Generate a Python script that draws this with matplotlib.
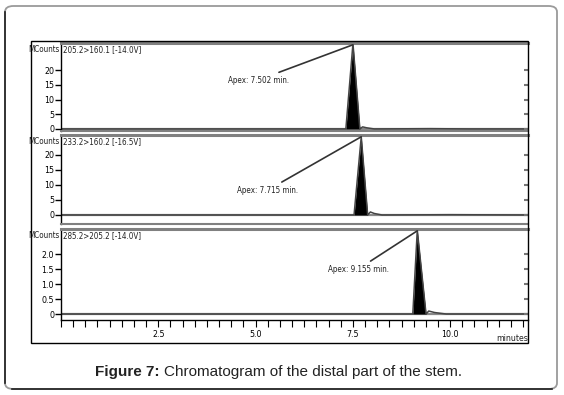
import matplotlib
matplotlib.use("Agg")
import matplotlib.pyplot as plt
from matplotlib.ticker import MultipleLocator, FixedLocator
from matplotlib.patches import FancyBboxPatch, Rectangle
from matplotlib.lines import Line2D

# chromatogram traces (time in minutes, intensity in MCounts)
t1 = [0.0, 7.32, 7.502, 7.68, 7.75, 7.85, 8.05, 9.5, 10.5, 12.0]
y1 = [0.0, 0.0, 29.0, 0.0, 0.7, 0.4, 0.0, 0.1, 0.0, 0.0]
t2 = [0.0, 7.53, 7.715, 7.88, 7.95, 8.05, 8.25, 10.0, 12.0]
y2 = [0.0, 0.0, 26.0, 0.0, 1.0, 0.5, 0.0, 0.1, 0.0]
t3 = [0.0, 9.04, 9.155, 9.38, 9.45, 9.6, 9.9, 12.0]
y3 = [0.0, 0.0, 2.8, 0.0, 0.1, 0.05, 0.0, 0.0]

headers = ["205.2>160.1 [-14.0V]", "233.2>160.2 [-16.5V]", "285.2>205.2 [-14.0V]"]
apex_labels = ["Apex: 7.502 min.", "Apex: 7.715 min.", "Apex: 9.155 min."]
apex_times = [7.502, 7.715, 9.155]
yticks_big = [0, 5, 10, 15, 20]
yticks_small = [0, 0.5, 1.0, 1.5, 2.0]
ytick_labels_small = ["0", "0.5", "1.0", "1.5", "2.0"]
xticks = [2.5, 5.0, 7.5, 10.0]
xtick_labels = ["2.5", "5.0", "7.5", "10.0"]

W, H = 564, 395
small = dict(family="DejaVu Sans", stretch="condensed")

fig = plt.figure(figsize=(W / 100, H / 100), dpi=100)

def fbox(l, t, r, b):
    return [l / W, 1 - b / H, (r - l) / W, (b - t) / H]

# outer rounded frame
outer = FancyBboxPatch((5 / W, 6 / H), 552 / W, 383 / H,
                       boxstyle="round,pad=0,rounding_size=0.015",
                       transform=fig.transFigure, fill=False,
                       edgecolor="#9a9a9a", lw=1.3)
fig.patches.append(outer)
fig.add_artist(Line2D([5 / W, 5 / W], [12 / H, 1 - 12 / H], transform=fig.transFigure, color="#222", lw=1.2))
fig.add_artist(Line2D([12 / W, 1 - 12 / W], [6 / H, 6 / H], transform=fig.transFigure, color="#222", lw=1.2))

# inner image frame
fig.add_artist(Rectangle((31 / W, 1 - 343 / H), 497 / W, 302 / H, transform=fig.transFigure,
                         fill=False, edgecolor="black", lw=1.0))

panels = [
    (fbox(61, 43, 528, 131), t1, y1, (-0.7, 29.2), (5.85, 16.6)),
    (fbox(61, 135, 528, 224), t2, y2, (-3.0, 26.6), (6.1, 8.3)),
    (fbox(61, 229, 528, 320), t3, y3, (-0.2, 2.84), (8.42, 1.5)),
]

for i, (pos, t, y, ylim, txt) in enumerate(panels):
    ax = fig.add_axes(pos)
    ax.plot(t, y, color="#444", lw=1.1)
    # black filled peak between its base points
    ax.fill_between(t[1:4], y[1:4], 0, color="black", lw=0)
    ax.axhline(0, color="#888", lw=1.6, zorder=0)
    ax.set_xlim(0, 12.0)
    ax.set_ylim(*ylim)
    ax.spines["top"].set_color("#808080")
    ax.spines["top"].set_linewidth(2.2)
    ax.spines["right"].set_visible(False)
    ax.spines["left"].set_linewidth(1.0)
    if i < 2:
        ax.spines["bottom"].set_color("#808080")
        ax.spines["bottom"].set_linewidth(1.5)
        ax.set_yticks(yticks_big)
        ax.set_xticks([])
    else:
        ax.spines["bottom"].set_linewidth(1.0)
        ax.set_yticks(yticks_small)
        ax.set_yticklabels(ytick_labels_small)
        ax.xaxis.set_major_locator(FixedLocator(xticks))
        ax.xaxis.set_minor_locator(MultipleLocator(2.5 / 8))
        ax.set_xticklabels(xtick_labels)
        ax.tick_params(axis="x", which="both", direction="out", length=5, width=0.8, pad=2)
        for lab in ax.get_xticklabels():
            lab.set_fontfamily("DejaVu Sans")
            lab.set_fontstretch("condensed")
            lab.set_fontsize(6.3)
        ax.text(1.0, -0.2, "minutes", transform=ax.transAxes, ha="right", va="center",
                fontsize=6.3, color="#222", **small)
    ax.tick_params(axis="y", direction="out", length=4, width=1.0, pad=1, labelsize=6.3)
    for lab in ax.get_yticklabels():
        lab.set_fontstretch("condensed")
    # inward gray ticks on the right edge
    ax2 = ax.twinx()
    ax2.set_ylim(ax.get_ylim())
    ax2.set_yticks(ax.get_yticks())
    ax2.set_yticklabels([])
    ax2.tick_params(axis="y", direction="in", length=3, width=1.5, color="#777")
    for s in ["top", "left", "bottom", "right"]:
        ax2.spines[s].set_visible(False)

    ax.text(-0.004, 0.93, "MCounts", transform=ax.transAxes, ha="right", va="center",
            fontsize=5.8, color="#222", **small)
    ax.text(0.005, 0.93, headers[i], transform=ax.transAxes, ha="left", va="center",
            fontsize=5.8, color="#222", **small)
    ax.annotate(apex_labels[i], xy=(apex_times[i], ylim[1] - 0.02 * (ylim[1] - ylim[0])),
                xytext=txt, ha="right", va="center", fontsize=5.8, color="#222",
                arrowprops=dict(arrowstyle="-", color="#333", lw=1.2, shrinkA=1, shrinkB=0),
                **small)

cap_y = 1 - 372 / H
tb = fig.text(95 / W, cap_y, "Figure 7:", ha="left", va="center", fontsize=11,
              fontweight="bold", family="Liberation Sans", color="#222")
fig.canvas.draw()
bb = tb.get_window_extent()
fig.text((bb.x1 + 4) / W, cap_y, "Chromatogram of the distal part of the stem.", ha="left",
         va="center", fontsize=11, family="Liberation Sans", color="#222")

fig.savefig("out.png", dpi=100)
